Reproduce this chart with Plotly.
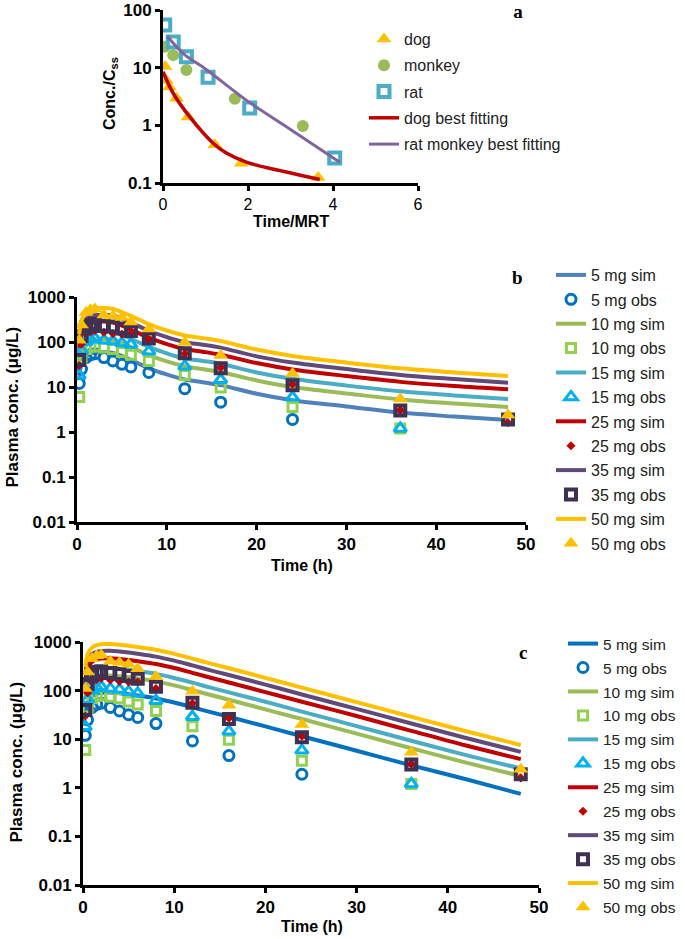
import plotly.graph_objects as go

# ---------------- panel a : normalised data across species ----------------
dog_t = [0.05, 0.08, 0.15, 0.32, 0.59, 1.22, 1.84, 3.65]
dog_c = [10.5, 6.0, 4.6, 2.95, 1.4, 0.46, 0.22, 0.125]
monkey_t = [0.04, 0.24, 0.55, 1.69, 3.29]
monkey_c = [23, 16.5, 9.1, 2.9, 0.97]
rat_t = [0.04, 0.24, 0.55, 1.06, 2.04, 4.04]
rat_c = [55, 28, 15.5, 6.8, 2.0, 0.27]
dogfit_t = [0.0, 0.24, 0.63, 1.18, 1.49, 1.96, 2.82, 3.69]
dogfit_c = [8.5, 3.6, 1.4, 0.49, 0.33, 0.23, 0.16, 0.115]
ratfit_t = [0.1, 0.5, 1.0, 2.0, 3.0, 4.16]
ratfit_c = [35, 17, 9.5, 2.6, 0.85, 0.23]

# ---------------- panels b and c : human plasma conc. ----------------
doses = ["5", "10", "15", "25", "35", "50"]
sim_t = [0.25, 0.5, 1, 1.5, 2, 3, 4, 5, 6, 8, 10, 12, 14, 16, 20, 24, 30, 36, 42, 48]

sim_b = {
    "5": [16, 32, 47, 55, 58, 60, 57, 49, 40, 26, 19, 14.7, 12.8, 11, 7.1, 5.1, 3.7, 2.7, 2.2, 1.85],
    "10": [31, 62, 92, 107, 114, 117, 111, 95, 78, 51, 37, 29, 25, 21.5, 14, 10, 7.2, 5.3, 4.3, 3.6],
    "15": [46, 93, 140, 161, 172, 177, 167, 144, 118, 78, 56, 43, 38, 33, 21, 15.2, 10.8, 8, 6.5, 5.4],
    "25": [75, 150, 225, 260, 278, 285, 270, 232, 190, 125, 90, 70, 61, 52, 34, 24.5, 17.5, 13, 10.5, 8.9],
    "35": [107, 213, 320, 370, 394, 405, 383, 330, 270, 178, 128, 99, 87, 75, 48, 35, 25, 18.5, 15, 12.5],
    "50": [150, 300, 450, 520, 555, 570, 540, 464, 380, 250, 180, 140, 122, 105, 68, 49, 35, 26, 21, 17.5],
}
sim_c = {
    "5": [30, 56, 77, 86, 90, 91, 88, 84, 79, 69, 57, 45.5, 36, 29, 18.3, 11.5, 5.8, 2.9, 1.5, 0.75],
    "10": [68, 126, 173, 194, 203, 205, 198, 189, 178, 155, 128, 102, 81, 65, 41, 26, 13, 6.5, 3.3, 1.75],
    "15": [96, 179, 246, 275, 288, 291, 282, 269, 253, 221, 182, 146, 115, 92, 59, 37, 18.6, 9.3, 4.7, 2.5],
    "25": [153, 286, 393, 439, 459, 464, 449, 428, 403, 352, 291, 232, 184, 147, 93, 59, 30, 14.8, 7.4, 3.9],
    "35": [218, 406, 558, 624, 653, 660, 638, 609, 573, 500, 413, 330, 261, 209, 133, 83, 42, 21, 10.6, 5.5],
    "50": [300, 560, 770, 860, 900, 910, 880, 840, 790, 690, 570, 455, 360, 288, 183, 115, 58, 29, 14.6, 7.6],
}

obs_t = [0.25, 0.5, 1, 1.5, 2, 3, 4, 5, 6, 8, 12, 16, 24, 36, 48]
obs = {
    "5": [12, 25, 45, 52, 55, 45, 38, 32, 28, 21, 9.2, 4.6, 1.9],
    "10": [6, 45, 70, 78, 80, 75, 70, 60, 52, 38, 18.5, 9.8, 3.6, 1.2],
    "15": [18, 65, 100, 115, 120, 110, 105, 95, 88, 62, 29, 14.5, 5.9, 1.2],
    "25": [30, 90, 150, 170, 180, 165, 155, 150, 150, 110, 55, 27, 11.5, 3.1, 1.6],
    "35": [40, 135, 210, 240, 250, 230, 220, 200, 175, 120, 56, 26, 11, 3.0, 1.9],
    "50": [110, 240, 450, 520, 540, 400, 380, 350, 280, 195, 97, 50, 20, 5.4, 2.4],
}

sim_color_b = {"5": "#4F81BD", "10": "#9BBB59", "15": "#4BACC6",
               "25": "#C00000", "35": "#604A7B", "50": "#FFC000"}
sim_color_c = dict(sim_color_b, **{"5": "#0070C0"})
obs_style = {
    "5": dict(symbol="circle-open", size=10, color="#0070C0", line=dict(width=3, color="#0070C0")),
    "10": dict(symbol="square-open", size=9, color="#92D050", line=dict(width=3, color="#92D050")),
    "15": dict(symbol="triangle-up-open", size=11, color="#00B0F0", line=dict(width=3, color="#00B0F0")),
    "25": dict(symbol="diamond", size=7, color="#C00000"),
    "35": dict(symbol="square-open", size=10, color="#403152", line=dict(width=4, color="#403152")),
    "50": dict(symbol="triangle-up", size=13, color="#FFC000"),
}

FONT = "Liberation Sans, Arial, sans-serif"
SERIF = "Liberation Serif, Times New Roman, serif"
W, H = 685, 939

fig = go.Figure()

# panel a traces
fig.add_trace(go.Scatter(x=dog_t, y=dog_c, mode="markers", name="dog", legend="legend", legendgroup="a1",
                         marker=dict(symbol="triangle-up", size=13, color="#FFC000"), xaxis="x", yaxis="y"))
fig.add_trace(go.Scatter(x=monkey_t, y=monkey_c, mode="markers", name="monkey", legend="legend", legendgroup="a2",
                         marker=dict(symbol="circle", size=12, color="#9BBB59"), xaxis="x", yaxis="y"))
fig.add_trace(go.Scatter(x=rat_t, y=rat_c, mode="markers", name="rat", legend="legend", legendgroup="a3",
                         marker=dict(symbol="square-open", size=11, color="#4BACC6", line=dict(width=4, color="#4BACC6")),
                         xaxis="x", yaxis="y"))
fig.add_trace(go.Scatter(x=dogfit_t, y=dogfit_c, mode="lines", name="dog best fitting", legend="legend", legendgroup="a4",
                         line=dict(color="#C00000", width=3.5, shape="spline"), xaxis="x", yaxis="y"))
fig.add_trace(go.Scatter(x=ratfit_t, y=ratfit_c, mode="lines", name="rat monkey best fitting", legend="legend",
                         legendgroup="a5", line=dict(color="#8064A2", width=3, shape="spline"), xaxis="x", yaxis="y"))

# panels b and c traces
for sims, colors, xa, ya, leg, tag in [(sim_b, sim_color_b, "x2", "y2", "legend2", "b"),
                                       (sim_c, sim_color_c, "x3", "y3", "legend3", "c")]:
    for d in doses:
        fig.add_trace(go.Scatter(x=sim_t, y=sims[d], mode="lines", name=d + " mg sim", legend=leg,
                                 legendgroup=tag + d + "s", line=dict(color=colors[d], width=4, shape="spline"),
                                 xaxis=xa, yaxis=ya))
        fig.add_trace(go.Scatter(x=obs_t[:len(obs[d])], y=obs[d], mode="markers", name=d + " mg obs", legend=leg,
                                 legendgroup=tag + d + "o", marker=obs_style[d], xaxis=xa, yaxis=ya))


def xdom(a, b):
    return [a / W, b / W]


def ydom(bottom, top):
    return [1 - bottom / H, 1 - top / H]


axis_common = dict(showline=True, linewidth=3, linecolor="black", ticks="outside", ticklen=5,
                   tickwidth=2.5, tickcolor="black", showgrid=False, zeroline=False, automargin=False)
bold_tick = dict(family=FONT, size=17, color="black", weight="bold")
legend_font = dict(family=FONT, size=16, color="#222")

fig.update_layout(
    template="none",
    width=W, height=H, autosize=False,
    margin=dict(l=0, r=0, t=0, b=0, autoexpand=False),
    paper_bgcolor="white", plot_bgcolor="white",
    font=dict(family=FONT, color="black"),
    # panel letter "a" is the layout title
    title=dict(text="a", x=518 / W, xanchor="center", y=1 - 11 / H, yanchor="middle",
               font=dict(family=SERIF, size=19, color="black", weight="bold")),
    xaxis=dict(axis_common, domain=xdom(163, 418), range=[0, 6], dtick=2, anchor="y",
               tickfont=dict(family=FONT, size=16, color="black")),
    yaxis=dict(axis_common, domain=ydom(183, 10), type="log", range=[-1, 2], anchor="x",
               tickvals=[0.1, 1, 10, 100], ticktext=["0.1", "1", "10", "100"], tickfont=bold_tick),
    xaxis2=dict(axis_common, domain=xdom(77, 526), range=[0, 50], dtick=10, anchor="y2", tickfont=bold_tick),
    yaxis2=dict(axis_common, domain=ydom(522, 297), type="log", range=[-2, 3], anchor="x2",
                tickvals=[0.01, 0.1, 1, 10, 100, 1000], ticktext=["0.01", "0.1", "1", "10", "100", "1000"],
                tickfont=bold_tick),
    xaxis3=dict(axis_common, domain=xdom(83, 539), range=[0, 50], dtick=10, anchor="y3", tickfont=bold_tick),
    yaxis3=dict(axis_common, domain=ydom(885, 642), type="log", range=[-2, 3], anchor="x3",
                tickvals=[0.01, 0.1, 1, 10, 100, 1000], ticktext=["0.01", "0.1", "1", "10", "100", "1000"],
                tickfont=bold_tick),
    legend=dict(x=364 / W, y=1 - 22 / H, xanchor="left", yanchor="top", bgcolor="rgba(0,0,0,0)",
                font=legend_font, itemwidth=30, tracegroupgap=2.5),
    legend2=dict(x=551 / W, y=1 - 258 / H, xanchor="left", yanchor="top", bgcolor="rgba(0,0,0,0)",
                 font=legend_font, itemwidth=30, tracegroupgap=0.6),
    legend3=dict(x=563 / W, y=1 - 627 / H, xanchor="left", yanchor="top", bgcolor="rgba(0,0,0,0)",
                 font=dict(legend_font, size=15.5), itemwidth=30, tracegroupgap=0.8),
    showlegend=True,
)

# axis titles and remaining panel letters (all kept inside the page)
title_font = dict(family=FONT, size=16, color="black", weight="bold")
letter_font = dict(family=SERIF, size=19, color="black", weight="bold")
notes = [
    (110, 94, "Conc./C<sub>ss</sub>", -90, title_font, "center"),
    (291, 222, "Time/MRT", 0, title_font, "center"),
    (0, 407, "Plasma conc. (μg/L)", -90, dict(title_font, size=17), "left"),
    (302, 565, "Time (h)", 0, title_font, "center"),
    (4, 762, "Plasma conc. (μg/L)", -90, dict(title_font, size=17), "left"),
    (312, 926, "Time (h)", 0, title_font, "center"),
    (517, 277, "b", 0, letter_font, "center"),
    (523, 652, "c", 0, letter_font, "center"),
]
for px, py, txt, ang, fnt, xa in notes:
    fig.add_annotation(x=px / W, y=1 - py / H, xref="paper", yref="paper", text=txt, textangle=ang,
                       showarrow=False, font=fnt, xanchor=xa, yanchor="middle")

# drop the browser's default 8px body margin so the 685x939 figure fills the window exactly
fig.write_html("out.html", config={"displayModeBar": False},
               post_script="document.body.style.margin='0px';")
